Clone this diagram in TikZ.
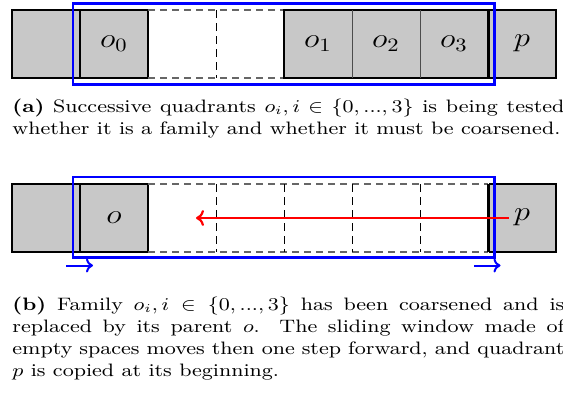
\documentclass[tikz,border=0pt]{standalone}
\usepackage{graphicx}
\usetikzlibrary{arrows.meta}
\definecolor{cellgray}{RGB}{200,200,200}
\newlength\capnat
\begin{document}
\settowidth\capnat{\fontsize{9}{11}\selectfont whether it is a family and whether it must be coarsened.}%
\pgfmathsetmacro\sx{274/\capnat}%
\pgfmathsetmacro\lx{0.944*\sx}%
\pgfmathsetlengthmacro\capw{276pt/\sx}%
\newcommand\lbl[1]{\scalebox{\lx}[0.944]{\Large$#1$}}%
\begin{tikzpicture}[x=0.5pt,y=-0.5pt,
  cell/.style={fill=cellgray,draw=black,line width=0.75pt},
  divider/.style={draw=black!70,line width=0.5pt},
  gdash/.style={draw=black!60,line width=0.8pt,dash pattern=on 3.5pt off 2.5pt},
  vdash/.style={draw=black,line width=0.45pt,dash pattern=on 4pt off 2.5pt},
  win/.style={draw=blue,line width=1.1pt},
  mv/.style={draw=blue,line width=1pt,-{To[length=3.5pt,width=7pt]}},
  lab/.style={inner sep=0pt},
  captext/.style={anchor=base west,inner sep=0pt,align=left}]
\useasboundingbox (0,0) rectangle (563,397);
% ---------- top row ----------
\fill[cellgray] (12,10) rectangle (148,78);
\fill[cellgray] (284,10) rectangle (556,78);
\draw[cell] (12,10) rectangle (80,78);
\draw[divider,line width=0.4pt] (72,10) -- (72,78);
\draw[cell] (80,10) rectangle (148,78);
\draw[gdash] (148,10) -- (284,10) (148,78) -- (284,78);
\draw[vdash] (216,10) -- (216,78);
\draw[cell,fill=none] (284,10) rectangle (488,78);
\draw[divider] (352,10) -- (352,78) (420,10) -- (420,78);
\draw[cell] (489.5,10) rectangle (556,78);
\draw[win] (73,3.5) rectangle (494.5,84.5);
\node[lab] (oA) at (114,44) {\lbl{o_0}};
\node[lab] (o1) at (318,44) {\lbl{o_1}};
\node[lab] (o2) at (386,44) {\lbl{o_2}};
\node[lab] (o3) at (454,44) {\lbl{o_3}};
\node[lab] (pA) at (522,43) {\lbl{p}};
% ---------- bottom row ----------
\fill[cellgray] (12,184) rectangle (148,252);
\fill[cellgray] (488,184) rectangle (556,252);
\draw[cell] (12,184) rectangle (80,252);
\draw[divider,line width=0.4pt] (72,184) -- (72,252);
\draw[cell] (80,184) rectangle (148,252);
\draw[gdash] (148,184) -- (488,184) (148,252) -- (488,252);
\foreach \xx in {216,284,352,420} \draw[vdash] (\xx,184) -- (\xx,252);
\draw[cell] (488,184) -- (488,252);
\draw[cell] (489.5,184) rectangle (556,252);
\draw[win] (73,177) rectangle (494.5,257.5);
\node[lab] (oB) at (114,218) {\lbl{o}};
\node[lab] (pB) at (522,217) {\lbl{p}};
\coordinate (tgt) at (196,218);
\draw[red,line width=1.1pt,-{To[length=4pt,width=8pt]}] ([xshift=-2.5pt]pB.west |- tgt) -- (tgt);
\coordinate (b1) at (66,265.5);
\coordinate (b2) at (93,265.5);
\coordinate (b3) at (474,265.5);
\coordinate (b4) at (500.5,265.5);
\draw[mv] (b1) -- (b2);
\draw[mv] (b3) -- (b4);
% ---------- captions ----------
\node[captext] (capa) at (12,112.7) {\scalebox{\sx}[1]{\parbox[t]{\capw}{\fontsize{9}{11}\selectfont\textbf{(a)} Successive quadrants $o_i, i \in \{0, ..., 3\}$ is being tested whether it is a family and whether it must be coarsened.}}};
\node[captext] (capb) at (12,310) {\scalebox{\sx}[1]{\parbox[t]{\capw}{\fontsize{9}{11}\selectfont\textbf{(b)} Family $o_i, i \in \{0, ..., 3\}$ has been coarsened and is replaced by its parent $o$. The sliding window made of empty spaces moves then one step forward, and quadrant $p$ is copied at its beginning.}}};
\end{tikzpicture}
\end{document}
